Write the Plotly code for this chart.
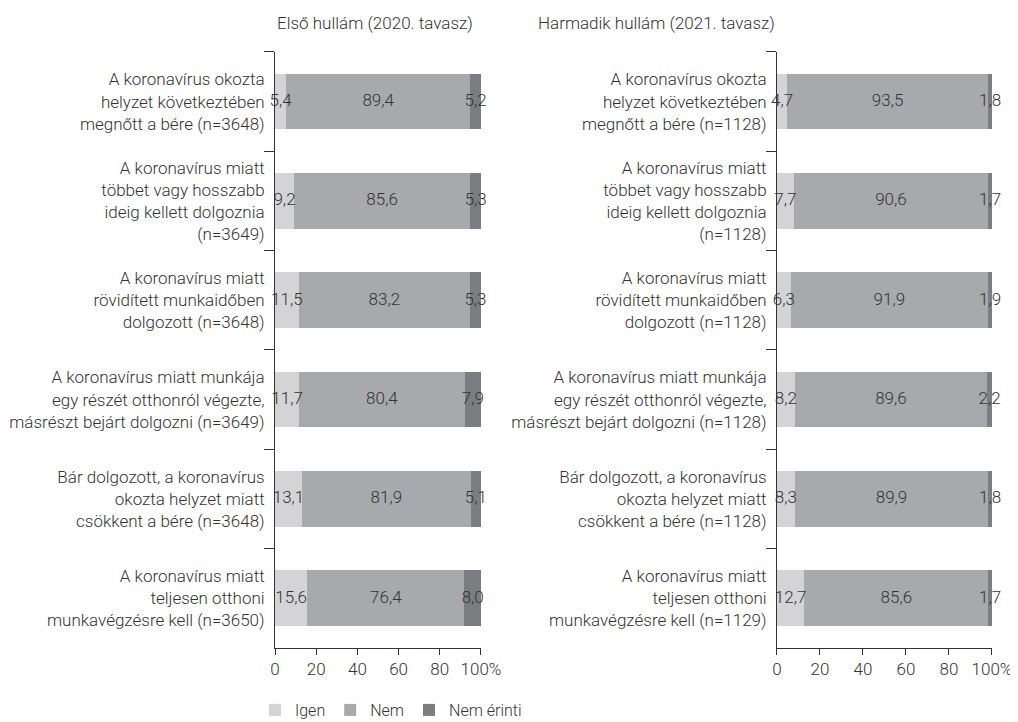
import plotly.graph_objects as go

# labels, top to bottom
labels_2020 = [
    "A koronavírus okozta<br>helyzet következtében<br>megnőtt a bére (n=3648)",
    "A koronavírus miatt<br>többet vagy hosszabb<br>ideig kellett dolgoznia<br>(n=3649)",
    "A koronavírus miatt<br>rövidített munkaidőben<br>dolgozott (n=3648)",
    "A koronavírus miatt munkája<br>egy részét otthonról végezte,<br>másrészt bejárt dolgozni (n=3649)",
    "Bár dolgozott, a koronavírus<br>okozta helyzet miatt<br>csökkent a bére (n=3648)",
    "A koronavírus miatt<br>teljesen otthoni<br>munkavégzésre kell (n=3650)",
]
labels_2021 = [
    "A koronavírus okozta<br>helyzet következtében<br>megnőtt a bére (n=1128)",
    "A koronavírus miatt<br>többet vagy hosszabb<br>ideig kellett dolgoznia<br>(n=1128)",
    "A koronavírus miatt<br>rövidített munkaidőben<br>dolgozott (n=1128)",
    "A koronavírus miatt munkája<br>egy részét otthonról végezte,<br>másrészt bejárt dolgozni (n=1128)",
    "Bár dolgozott, a koronavírus<br>okozta helyzet miatt<br>csökkent a bére (n=1128)",
    "A koronavírus miatt<br>teljesen otthoni<br>munkavégzésre kell (n=1129)",
]

igen_2020 = [5.4, 9.2, 11.5, 11.7, 13.1, 15.6]
nem_2020 = [89.4, 85.6, 83.2, 80.4, 81.9, 76.4]
nemerinti_2020 = [5.2, 5.3, 5.3, 7.9, 5.1, 8.0]

igen_2021 = [4.7, 7.7, 6.3, 8.2, 8.3, 12.7]
nem_2021 = [93.5, 90.6, 91.9, 89.6, 89.9, 85.6]
nemerinti_2021 = [1.8, 1.7, 1.9, 2.2, 1.8, 1.7]

series = ["Igen", "Nem", "Nem érinti"]
colors = ["#d4d4d6", "#a8a9ac", "#7c7d81"]
tick_vals = [0, 20, 40, 60, 80, 100]
tick_text = ["0", "20", "40", "60", "80", "100%"]
titles = ["Első hullám (2020. tavasz)", "Harmadik hullám (2021. tavasz)"]

FONT = "Roboto"
W = 300
TXT = "#333333"

fig = go.Figure()

panels = [
    ("x", "y", labels_2020, [igen_2020, nem_2020, nemerinti_2020], True),
    ("x2", "y2", labels_2021, [igen_2021, nem_2021, nemerinti_2021], False),
]
for xa, ya, labels, vals, show in panels:
    base = [0.0] * len(labels)
    for name, col, v in zip(series, colors, vals):
        fig.add_trace(go.Bar(
            y=labels, x=v, name=name, orientation="h",
            marker=dict(color=col, line=dict(width=0)),
            xaxis=xa, yaxis=ya, showlegend=show, hoverinfo="skip",
        ))
        # value labels centred on each segment
        mid = [b + val / 2 for b, val in zip(base, v)]
        fig.add_trace(go.Scatter(
            y=labels, x=mid, customdata=v, mode="text",
            texttemplate="%{customdata:.1f}", textposition="middle center",
            textfont=dict(family=FONT, size=17, color=TXT, weight=W),
            cliponaxis=False, xaxis=xa, yaxis=ya, showlegend=False,
            hoverinfo="skip",
        ))
        base = [b + val for b, val in zip(base, v)]

axis_common = dict(
    range=[0, 100], tickvals=tick_vals, ticktext=tick_text,
    showgrid=False, zeroline=False, showline=True, linecolor="#333",
    linewidth=1, ticks="outside", ticklen=6, tickcolor="#333",
    tickfont=dict(family=FONT, size=17, color=TXT, weight=W),
    automargin=False, ticklabeloverflow="allow",
)
yaxis_common = dict(
    type="category", autorange="reversed", showgrid=False, showline=True,
    linecolor="#333", linewidth=1, ticks="outside", tickson="boundaries",
    ticklen=10, tickcolor="#333",
    tickfont=dict(family=FONT, size=17, color=TXT, weight=W),
    automargin=False, ticklabelstandoff=6,
)

# the page body adds an 8px offset, so everything is nudged up/left by 8px
fig.update_layout(
    width=1018, height=722,
    margin=dict(l=0, r=0, t=0, b=0),
    paper_bgcolor="white", plot_bgcolor="white",
    barmode="stack", bargap=0.44,
    separators=", ",
    font=dict(family=FONT, color=TXT, weight=W),
    xaxis=dict(domain=[0.2623, 0.4646], anchor="y", **axis_common),
    xaxis2=dict(domain=[0.7554, 0.9666], anchor="y2", **axis_common),
    yaxis=dict(domain=[0.1136, 0.9391], anchor="x", **yaxis_common),
    yaxis2=dict(domain=[0.1136, 0.9391], anchor="x2", **yaxis_common),
    legend=dict(
        orientation="h", x=0.2426, y=0.0277, xanchor="left", yanchor="middle",
        font=dict(family=FONT, size=16, color=TXT, weight=W),
        itemwidth=30, traceorder="normal",
    ),
    annotations=[
        dict(text=titles[0], x=0.2623, y=0.9792, xref="paper", yref="paper",
             yanchor="middle", showarrow=False,
             font=dict(family=FONT, size=17, color=TXT, weight=W)),
        dict(text=titles[1], x=0.7554, y=0.9792, xref="paper", yref="paper",
             yanchor="middle", showarrow=False,
             font=dict(family=FONT, size=17, color=TXT, weight=W)),
    ],
)

fig.write_html("out.html")
